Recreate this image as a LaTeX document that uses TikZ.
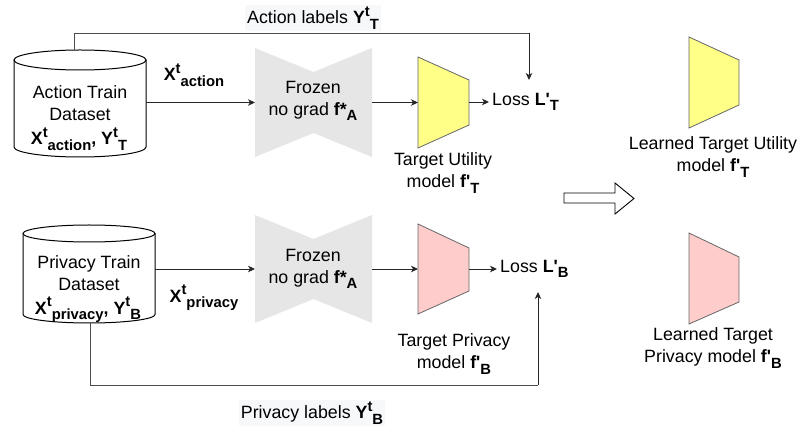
\documentclass[tikz,border=0pt]{standalone}
\usepackage{fontspec}
\setmainfont{Liberation Sans}
\usetikzlibrary{arrows.meta,calc}

\definecolor{utilfill}{HTML}{FFFF88}
\definecolor{privfill}{HTML}{FFCCCC}
\definecolor{frozenfill}{HTML}{E6E6E6}
\definecolor{shapeedge}{HTML}{666666}
\definecolor{labelbg}{HTML}{F6F8FA}

% bold symbol with superscript and subscript set one after the other
\newcommand\SmallIdx[1]{{\fontsize{14.8}{15}\selectfont\bfseries #1}}
\newcommand\SupSub[3]{\textbf{#1\raisebox{0.42em}{\SmallIdx{#2}}\raisebox{-0.3em}{\SmallIdx{#3}}}}
\newcommand\Prm{\textquotesingle}

\begin{document}
\begin{tikzpicture}[x=1pt,y=-1pt,
  txt/.style={font=\fontsize{17.8}{21.8}\selectfont, align=center, inner sep=0pt},
  holder/.style={inner sep=0pt, outer sep=0pt},
  cylline/.style={draw=black, line width=1pt},
  arr/.style={draw=black!85, line width=0.9pt, -{Stealth[length=7pt,width=6.5pt,inset=2pt]}},
  plainline/.style={draw=black!70, line width=0.9pt},
  utilshape/.style={fill=utilfill, draw=shapeedge, line width=0.8pt},
  privshape/.style={fill=privfill, draw=shapeedge, line width=0.8pt},
  lossnode/.style={txt, anchor=west, inner xsep=3pt},
]
\useasboundingbox (0,0) rectangle (800,435);

% ---------------- datasets (cylinders) ----------------
\node[holder, minimum width=132pt, minimum height=107pt] (actcyl) at (80,103.5) {};
\draw[cylline] (14,60) -- (14,147) arc[start angle=180, end angle=360, x radius=66pt, y radius=10pt] -- (146,60);
\draw[cylline] (80,60) ellipse [x radius=66pt, y radius=10pt];
\node[txt] (acttxt) at (80,103) {Action Train\\Dataset};
\node[txt] (actdata) at (79,139) {\SupSub{X}{t}{action}\textbf{,} \SupSub{Y}{t}{T}};

\node[holder, minimum width=132pt, minimum height=98pt] (privcyl) at (89,274) {};
\draw[cylline] (23,233.5) -- (23,314.5) arc[start angle=180, end angle=360, x radius=66pt, y radius=8.5pt] -- (155,233.5);
\draw[cylline] (89,233.5) ellipse [x radius=66pt, y radius=8.5pt];
\node[txt] (privtxt) at (89,273) {Privacy Train\\Dataset};
\node[txt] (privdata) at (88,310) {\SupSub{X}{t}{privacy}\textbf{,} \SupSub{Y}{t}{B}};

% ---------------- frozen encoders (bowties) ----------------
\node[holder, minimum width=117pt, minimum height=109pt] (bowA) at (313.5,102.5) {};
\fill[frozenfill] (bowA.north west) -- ($(bowA.north)+(0,-24pt)$) -- (bowA.north east)
  -- (bowA.south east) -- ($(bowA.south)+(0,24pt)$) -- (bowA.south west) -- cycle;
\node[txt] (bowAtxt) at (313,101) {Frozen\\no grad \SupSub{f*}{}{A}};

\node[holder, minimum width=117pt, minimum height=108pt] (bowB) at (313.5,269) {};
\fill[frozenfill] (bowB.north west) -- ($(bowB.north)+(0,-24pt)$) -- (bowB.north east)
  -- (bowB.south east) -- ($(bowB.south)+(0,24pt)$) -- (bowB.south west) -- cycle;
\node[txt] (bowBtxt) at (313,269) {Frozen\\no grad \SupSub{f*}{}{A}};

% ---------------- target models (trapezoids) ----------------
\node[holder, minimum width=51pt, minimum height=91pt] (utilT) at (443.5,102.5) {};
\draw[utilshape] (utilT.north west) -- ($(utilT.north east)+(0,-23pt)$)
  -- ($(utilT.south east)+(0,23pt)$) -- (utilT.south west) -- cycle;
\node[txt] (utilTtxt) at (443,173) {Target Utility\\model \SupSub{f\Prm}{}{T}};

\node[holder, minimum width=51pt, minimum height=90pt] (privB) at (443.5,269) {};
\draw[privshape] (privB.north west) -- ($(privB.north east)+(0,-24pt)$)
  -- ($(privB.south east)+(0,23pt)$) -- (privB.south west) -- cycle;
\node[txt] (privBtxt) at (454,354) {Target Privacy\\model \SupSub{f\Prm}{}{B}};

% ---------------- losses ----------------
\node[lossnode] (lossT) at (489,102) {Loss \SupSub{L\Prm}{}{T}};
\node[lossnode] (lossB) at (497,269) {Loss \SupSub{L\Prm}{}{B}};

% ---------------- learned models ----------------
\node[holder, minimum width=50pt, minimum height=91pt] (learnT) at (714,82.5) {};
\draw[utilshape] (learnT.north west) -- ($(learnT.north east)+(0,-23pt)$)
  -- ($(learnT.south east)+(0,23pt)$) -- (learnT.south west) -- cycle;
\node[txt] (learnTtxt) at (713,157) {Learned Target Utility\\model \SupSub{f\Prm}{}{T}};

\node[holder, minimum width=50pt, minimum height=91pt] (learnB) at (714,278.5) {};
\draw[privshape] (learnB.north west) -- ($(learnB.north east)+(0,-24pt)$)
  -- ($(learnB.south east)+(0,22pt)$) -- (learnB.south west) -- cycle;
\node[txt] (learnBtxt) at (713,348) {Learned Target\\Privacy model \SupSub{f\Prm}{}{B}};

% hollow arrow towards the learned models
\draw[black, line width=0.9pt, fill=white]
  (564,193) -- (615,193) -- (615,183) -- (634,198.5) -- (615,214) -- (615,203) -- (564,203) -- cycle;

% ---------------- data flow ----------------
\draw[arr] (actcyl.east |- bowA) -- (bowA.west);
\node[txt] (xact) at (194,75) {\SupSub{X}{t}{action}};
\draw[arr] (bowA.east) -- (utilT.west);
\draw[arr] (utilT.east |- lossT) -- (lossT.west);

\draw[arr] (privcyl.east |- bowB) -- (bowB.west);
\node[txt] (xpriv) at (204,298) {\SupSub{X}{t}{privacy}};
\draw[arr] (bowB.east) -- (privB.west);
\draw[arr] (privB.east |- lossB) -- (lossB.west);

% ---------------- label paths ----------------
\coordinate (topbend) at (529,33);
\coordinate (lossTtop) at (529,80);
\draw[plainline] (74,50) |- (topbend);
\draw[arr] (topbend) -- (lossTtop);
\node[txt, fill=labelbg, inner xsep=2pt, inner ysep=2pt] (actlab) at (313,18) {Action labels \SupSub{Y}{t}{T}};

\coordinate (botbend) at (538,385);
\coordinate (lossBbot) at (538,292);
\draw[plainline] (90,323) |- (botbend);
\draw[arr] (botbend) -- (lossBbot);
\node[txt, fill=labelbg, inner xsep=2pt, inner ysep=2pt] (privlab) at (312,413) {Privacy labels \SupSub{Y}{t}{B}};
\end{tikzpicture}
\end{document}
